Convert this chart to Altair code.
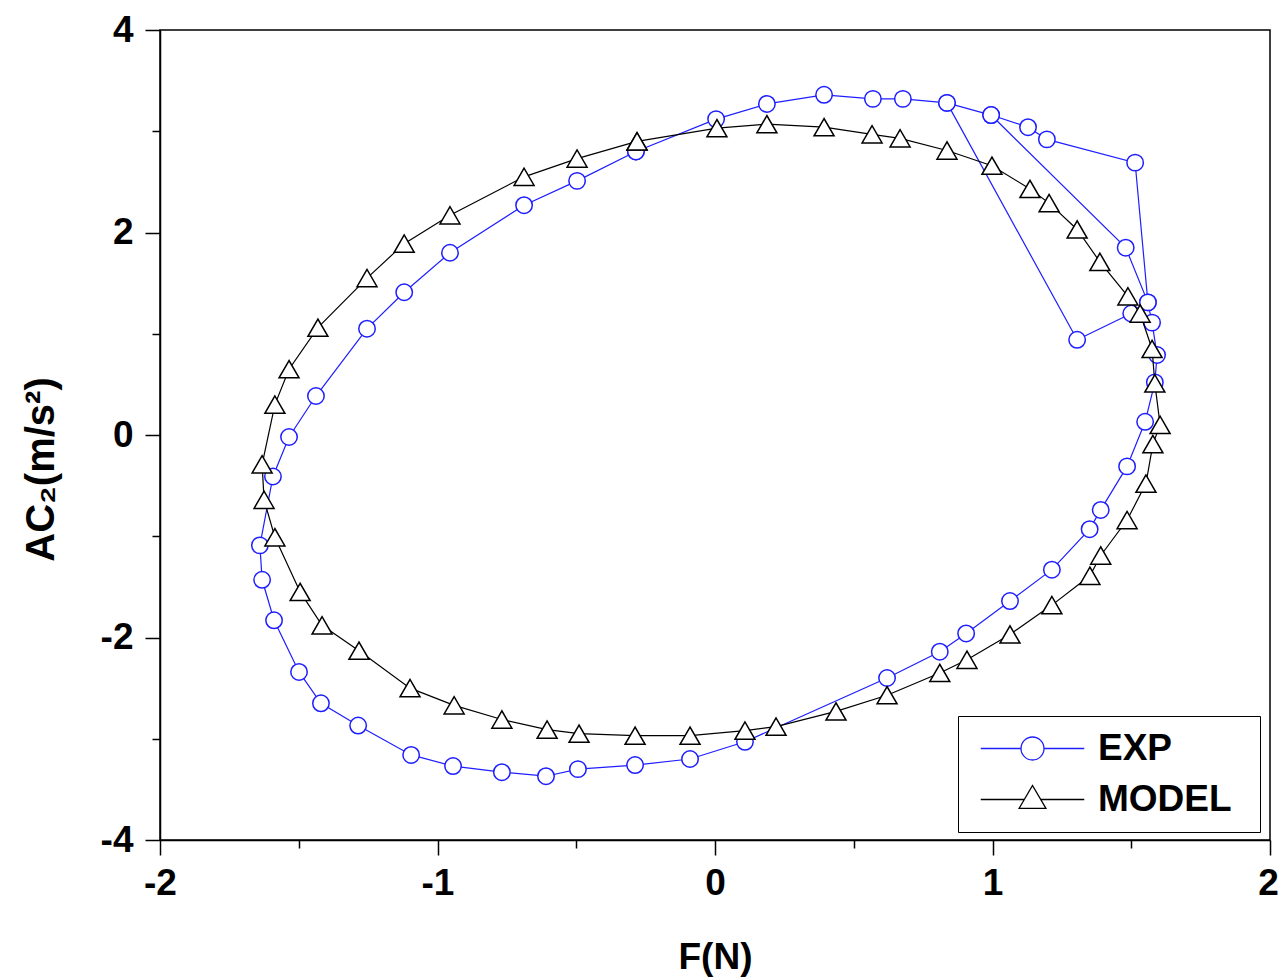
import altair as alt
import pandas as pd

# ---------------- data ----------------
series_names = ["EXP", "MODEL"]

# EXP loop (marker positions, in drawing order, closed)
exp_x = [-0.285, 0.004, 0.187, 0.393, 0.569, 0.677, 0.836, 0.995, 1.128, 1.196,
         1.514, 1.56, 1.575, 1.593, 1.585, 1.55, 1.485, 1.39, 1.35, 1.214,
         1.063, 0.905, 0.81, 0.62, 0.108, -0.09, -0.288, -0.494, -0.609, -0.768,
         -0.944, -1.095, -1.286, -1.42, -1.499, -1.589, -1.632, -1.64, -1.593, -1.535,
         -1.438, -1.254, -1.12, -0.955, -0.688, -0.497, -0.285]
exp_y = [2.80, 3.12, 3.27, 3.36, 3.32, 3.32, 3.28, 3.16, 3.04, 2.92,
         2.69, 1.31, 1.11, 0.79, 0.52, 0.13, -0.31, -0.74, -0.93, -1.33,
         -1.64, -1.96, -2.14, -2.40, -3.03, -3.20, -3.26, -3.30, -3.37, -3.33,
         -3.27, -3.16, -2.87, -2.65, -2.34, -1.83, -1.43, -1.09, -0.41, -0.02,
         0.385, 1.05, 1.41, 1.80, 2.27, 2.51, 2.80]

# EXP start-up transient paths
exp_t1_x = [0.836, 1.305, 1.50]
exp_t1_y = [3.28, 0.94, 1.20]
exp_t2_x = [0.995, 1.48, 1.56]
exp_t2_y = [3.16, 1.85, 1.31]

# MODEL loop (marker positions, in drawing order, closed)
model_x = [-0.281, 0.007, 0.187, 0.393, 0.566, 0.667, 0.836, 0.998, 1.135, 1.204,
           1.305, 1.387, 1.488, 1.532, 1.575, 1.585, 1.604, 1.578, 1.553, 1.485,
           1.39, 1.351, 1.214, 1.063, 0.908, 0.81, 0.62, 0.436, 0.22, 0.108,
           -0.09, -0.288, -0.49, -0.605, -0.768, -0.94, -1.099, -1.283, -1.416, -1.495,
           -1.586, -1.625, -1.632, -1.586, -1.535, -1.431, -1.254, -1.12, -0.955, -0.688,
           -0.497, -0.281]
model_y = [2.90, 3.03, 3.07, 3.04, 2.97, 2.93, 2.81, 2.66, 2.43, 2.29,
           2.03, 1.71, 1.37, 1.20, 0.85, 0.51, 0.10, -0.09, -0.48, -0.84,
           -1.19, -1.39, -1.68, -1.97, -2.22, -2.35, -2.57, -2.73, -2.88, -2.92,
           -2.97, -2.97, -2.95, -2.91, -2.81, -2.67, -2.50, -2.13, -1.88, -1.55,
           -1.01, -0.64, -0.29, 0.30, 0.65, 1.06, 1.55, 1.89, 2.17, 2.55,
           2.73, 2.90]

x_ticks = [-2, -1.5, -1, -0.5, 0, 0.5, 1, 1.5, 2]
y_ticks = [-4, -3, -2, -1, 0, 1, 2, 3, 4]

BLUE = "#1e1eff"
BLACK = "#000000"


def rows(series, seg, xs, ys):
    return [{"series": series, "seg": seg, "order": i, "x": a, "y": b}
            for i, (a, b) in enumerate(zip(xs, ys))]


exp_df = pd.DataFrame(rows("EXP", "loop", exp_x, exp_y)
                      + rows("EXP", "t1", exp_t1_x, exp_t1_y)
                      + rows("EXP", "t2", exp_t2_x, exp_t2_y))
model_df = pd.DataFrame(rows("MODEL", "loop", model_x, model_y))
legend_df = pd.DataFrame({"series": series_names})

FONT = "Liberation Sans"
FS = 37

x_enc = alt.X("x:Q", scale=alt.Scale(domain=[-2, 2], nice=False, zero=False),
              axis=alt.Axis(values=x_ticks, title="F(N)",
                            labelExpr="datum.value % 1 == 0 ? '' + datum.value : ''",
                            tickSize={"condition": {"test": "datum.value % 1 != 0", "value": 8}, "value": 15},
                            labelOffset={"condition": {"test": "datum.value == 2", "value": -2}, "value": 0},
                            labelPadding=10, labelFlush=False, titleX=555, titleY=128,
                            titleBaseline="alphabetic", grid=False))
y_enc = alt.Y("y:Q", scale=alt.Scale(domain=[-4, 4], nice=False, zero=False),
              axis=alt.Axis(values=y_ticks, title="AC\u2082(m/s\u00b2)",
                            labelExpr="datum.value % 2 == 0 ? '' + datum.value : ''",
                            tickSize={"condition": {"test": "datum.value % 2 != 0", "value": 8}, "value": 15},
                            labelPadding=12, labelFlush=False, titleX=-99, titleY=439,
                            titleFontSize=40, grid=False))

exp_line = alt.Chart(exp_df).mark_line(color=BLUE, strokeWidth=1.2).encode(
    x=x_enc, y=y_enc, detail="seg:N", order="order:Q")
exp_pts = alt.Chart(exp_df).mark_point(shape="circle", size=270, filled=True, fill="white",
                                       stroke=BLUE, strokeWidth=1.5, opacity=1).encode(x="x:Q", y="y:Q")
model_line = alt.Chart(model_df).mark_line(color=BLACK, strokeWidth=1.2).encode(
    x="x:Q", y="y:Q", detail="seg:N", order="order:Q")
model_pts = alt.Chart(model_df).mark_point(shape="triangle-up", size=400, filled=True, fill="white",
                                           stroke=BLACK, strokeWidth=1.5, opacity=1).encode(x="x:Q", y="y:Q")

# legend glyphs: line + marker (the trailing move-to only widens the legend box)
exp_sym = "M-4.5,0H-1M1,0H4.5M-1,0A1,1,0,1,1,1,0A1,1,0,1,1,-1,0ZM18.3,0"
model_sym = "M-4.5,0H-0.71M0.71,0H4.5M-1.17,0.78L0,-1.22L1.17,0.78ZM18.3,0"

legend_common = dict(title=None, orient="none", legendX=798, legendY=686,
                     strokeColor="black", fillColor="white", padding=14,
                     labelFont=FONT, labelFontSize=FS, labelFontWeight="bold", labelColor="black",
                     symbolSize=529, symbolStrokeWidth=1.3, symbolOffset=42, labelOffset=47,
                     rowPadding=13)

legend_layer = alt.Chart(legend_df).mark_point(filled=False, opacity=1).encode(
    color=alt.Color("series:N", scale=alt.Scale(domain=series_names, range=[BLUE, BLACK]),
                    legend=alt.Legend(**legend_common)),
    shape=alt.Shape("series:N", scale=alt.Scale(domain=series_names, range=[exp_sym, model_sym]),
                    legend=alt.Legend(**legend_common)),
).transform_filter("false")

chart = alt.layer(exp_line, exp_pts, model_line, model_pts, legend_layer).properties(
    width=1110, height=810,
    autosize=alt.AutoSizeParams(type="none"),
    padding={"left": 160, "top": 30, "right": 9, "bottom": 139},
    background="white",
).configure_view(
    stroke="black", strokeWidth=1.5
).configure_axis(
    labelFont=FONT, labelFontSize=FS, labelFontWeight="bold", labelColor="black",
    titleFont=FONT, titleFontSize=FS, titleFontWeight="bold", titleColor="black",
    domainColor="black", domainWidth=1.5, tickColor="black", tickWidth=1.5,
)

chart.save("out.html", embed_options={"renderer": "svg", "actions": False})
